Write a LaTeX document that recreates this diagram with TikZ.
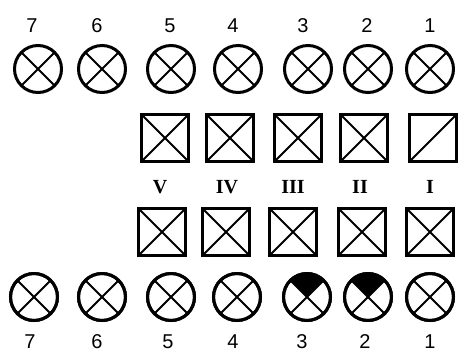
\documentclass[tikz,border=0pt]{standalone}
\usepackage{fontspec}
\setmainfont{Liberation Serif}
\setsansfont{Liberation Sans}
\begin{document}
\begin{tikzpicture}[x=1pt,y=-1pt,
  lamp/.style={circle,draw,line width=3pt,minimum size=47pt,inner sep=0pt,outer sep=0pt},
  box/.style={rectangle,draw,line width=3pt,minimum size=47pt,inner sep=0pt,outer sep=0pt},
  cross/.style={line width=1.8pt},
  num/.style={font=\sffamily\fontsize{20}{20}\selectfont},
  rom/.style={font=\bfseries\fontsize{20}{20}\selectfont}]
\useasboundingbox (0,0) rectangle (474,360);
% top lamps
\foreach \i/\x/\lx in {7/38/32,6/102/97,5/171/170,4/238/233,3/308/303,2/368/367,1/430/430}{
  \node[lamp] (tc\i) at (\x,69) {};
  \draw[cross] (tc\i.north west) -- (tc\i.south east) (tc\i.north east) -- (tc\i.south west);
  \node[num] (tl\i) at (\lx,26) {\i};
}
% bottom lamps
\foreach \i/\x/\lx in {7/34/30,6/102/97,5/171/168,4/237/233,3/307/302,2/368/365,1/430/430}{
  \node[lamp] (bc\i) at (\x,297) {};
  \node[num] (bl\i) at (\lx,342) {\i};
}
\foreach \i in {3,2}{
  \fill (bc\i.center) -- (bc\i.45) arc[start angle=45,end angle=135,radius=23.5pt] -- cycle;
}
\foreach \i in {7,6,5,4,3,2,1}{
  \draw[cross] (bc\i.north west) -- (bc\i.south east) (bc\i.north east) -- (bc\i.south west);
  \draw[line width=3pt] (bc\i) circle[radius=23.5pt];
}
% top boxes
\foreach \n/\x in {V/165,IV/230,III/298,II/364}{
  \node[box] (tb\n) at (\x,138) {};
  \draw[cross] (tb\n.north west) -- (tb\n.south east) (tb\n.north east) -- (tb\n.south west);
}
\node[box] (tbI) at (433,138) {};
\draw[cross] (tbI.south west) -- (tbI.north east);
% roman labels
\foreach \n/\x in {V/160,IV/227,III/293,II/360,I/430}{
  \node[rom] (r\n) at (\x,187) {\n};
}
% bottom boxes
\foreach \n/\x in {V/162,IV/226,III/293,II/362,I/430}{
  \node[box] (bb\n) at (\x,232) {};
  \draw[cross] (bb\n.north west) -- (bb\n.south east) (bb\n.north east) -- (bb\n.south west);
}
\end{tikzpicture}
\end{document}
